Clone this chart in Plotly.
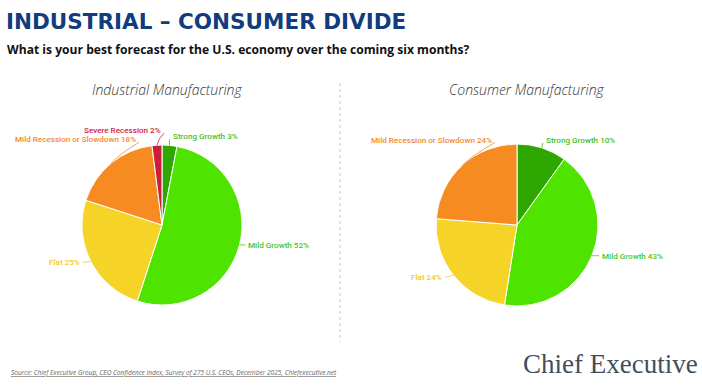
import math
import plotly.graph_objects as go

# ---------------- data ----------------
industrial_categories = ["Strong Growth", "Mild Growth", "Flat",
                         "Mild Recession or Slowdown", "Severe Recession"]
industrial_values = [3, 52, 25, 18, 2]

consumer_categories = ["Strong Growth", "Mild Growth", "Flat",
                       "Mild Recession or Slowdown"]
consumer_values = [10, 43, 24, 24]

chart_title = "INDUSTRIAL – CONSUMER DIVIDE"
chart_subtitle = "What is your best forecast for the U.S. economy over the coming six months?"
panel_titles = ["Industrial Manufacturing", "Consumer Manufacturing"]
source_text = ("Source: Chief Executive Group, CEO Confidence Index, Survey of 275 U.S. CEOs, "
               "December 2025, Chiefexecutive.net")
brand_text = "Chief Executive"

# ---------------- style ----------------
W, H = 702, 387
slice_colors = {
    "Strong Growth": "#2ea800",
    "Mild Growth": "#4ee400",
    "Flat": "#f5d327",
    "Mild Recession or Slowdown": "#f68b22",
    "Severe Recession": "#c91f3a",
}
label_colors = {
    "Strong Growth": "#45bf1c",
    "Mild Growth": "#45c81a",
    "Flat": "#f2c91e",
    "Mild Recession or Slowdown": "#f58a2a",
    "Severe Recession": "#d0243f",
}

# pie placement (pixels) and label nudges (dx, dy, anchor side)
panels = [
    dict(cats=industrial_categories, vals=industrial_values, cx=162, cy=225, r=80, tx=167,
         nudges={"Strong Growth": (1, -9, "left"),
                 "Mild Growth": (7, 0, "left"),
                 "Flat": (-9, 1, "right"),
                 "Mild Recession or Slowdown": (27, -24, "right"),
                 "Severe Recession": (6, -15, "right")}),
    dict(cats=consumer_categories, vals=consumer_values, cx=517, cy=225, r=81, tx=527,
         nudges={"Strong Growth": (2, -8, "left"),
                 "Mild Growth": (8, 0, "left"),
                 "Flat": (-9, 2, "right"),
                 "Mild Recession or Slowdown": (32, -26, "right")}),
]


def px(x):
    return x / W


def py(y):
    return 1 - y / H


fig = go.Figure()
annotations = []
shapes = []

for p, ptitle in zip(panels, panel_titles):
    cx, cy, r = p["cx"], p["cy"], p["r"]
    fig.add_trace(go.Pie(
        labels=p["cats"], values=p["vals"], sort=False, direction="clockwise",
        rotation=0, textinfo="none", hoverinfo="skip", showlegend=False,
        marker=dict(colors=[slice_colors[c] for c in p["cats"]],
                    line=dict(color="white", width=1)),
        domain=dict(x=[px(cx - r), px(cx + r)], y=[py(cy + r), py(cy - r)]),
    ))
    total = sum(p["vals"])
    cum = 0
    for c, v in zip(p["cats"], p["vals"]):
        mid = (cum + v / 2) / total * 2 * math.pi
        cum += v
        ex = cx + r * math.sin(mid)
        ey = cy - r * math.cos(mid)
        dx, dy, side = p["nudges"][c]
        lx, ly = ex + dx, ey + dy
        annotations.append(dict(
            x=px(lx), y=py(ly), xref="paper", yref="paper",
            xanchor=side, yanchor="middle", showarrow=False,
            text=f"{c} {v}%",
            font=dict(family="Roboto", size=8.1, color=label_colors[c], weight=500),
        ))
        endx = lx + (-1 if side == "left" else 1)
        endy = ly + (0 if abs(dy) < 3 else 3)
        qx, qy = (ex + endx) / 2 + (dy / 6 if side == "right" else 0), (ey + endy) / 2
        shapes.append(dict(
            type="path", xref="paper", yref="paper",
            path=f"M {px(ex)},{py(ey)} Q {px(qx)},{py(qy)} {px(endx)},{py(endy)}",
            line=dict(color=label_colors[c], width=0.8),
        ))
    annotations.append(dict(
        x=px(p["tx"]), y=py(90), xref="paper", yref="paper",
        xanchor="center", yanchor="middle", showarrow=False, text=ptitle,
        font=dict(family="Open Sans", size=14, color="#333333", style="italic", weight=300),
    ))

# titles
annotations.append(dict(
    x=px(4), y=py(22), xref="paper", yref="paper", xanchor="left", yanchor="middle",
    showarrow=False, text=chart_title,
    font=dict(family="DejaVu Sans", size=21.5, color="#113c7d", weight="bold"),
))
annotations.append(dict(
    x=px(5), y=py(50), xref="paper", yref="paper", xanchor="left", yanchor="middle",
    showarrow=False, text=chart_subtitle,
    font=dict(family="Open Sans", size=12.1, color="#111111", weight=700),
))
annotations.append(dict(
    x=px(9), y=py(372), xref="paper", yref="paper", xanchor="left", yanchor="middle",
    showarrow=False, text=source_text,
    font=dict(family="Open Sans", size=6.5, color="#666666", style="italic",
              lineposition="under"),
))
annotations.append(dict(
    x=px(521), y=py(364), xref="paper", yref="paper", xanchor="left", yanchor="middle",
    showarrow=False, text=brand_text,
    font=dict(family="Liberation Serif", size=27, color="#3f4f5e"),
))

# divider
shapes.append(dict(type="line", xref="paper", yref="paper",
                   x0=px(340), x1=px(340), y0=py(83), y1=py(342),
                   line=dict(color="#cccccc", width=1, dash="dot")))

fig.update_layout(
    width=W, height=H, margin=dict(l=0, r=0, t=0, b=0),
    paper_bgcolor="white", plot_bgcolor="white",
    annotations=annotations, shapes=shapes,
)

fig.write_html("out.html", config={"displayModeBar": False},
               post_script="document.body.style.margin='0';")
